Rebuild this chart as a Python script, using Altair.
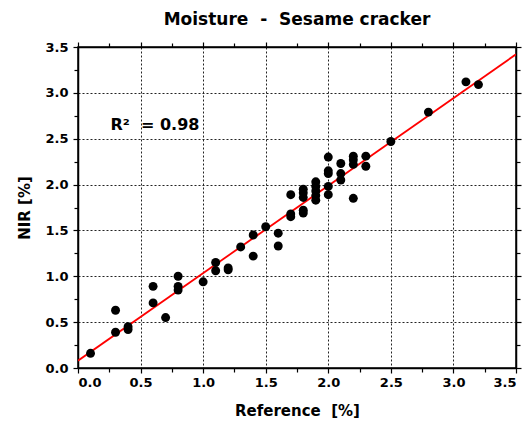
import altair as alt
import pandas as pd

# Data
ref = [0.1, 0.3, 0.3, 0.4, 0.4, 0.6, 0.6, 0.7, 0.8, 0.8, 0.8, 1.0, 1.1, 1.1, 1.2, 1.2,
       1.3, 1.4, 1.4, 1.5, 1.6, 1.6, 1.7, 1.7, 1.7,
       1.8, 1.8, 1.8, 1.8, 1.8,
       1.9, 1.9, 1.9, 1.9, 1.9,
       2.0, 2.0, 2.0, 2.0, 2.0,
       2.1, 2.1, 2.1,
       2.2, 2.2, 2.2, 2.2,
       2.3, 2.3, 2.5, 2.8, 3.1, 3.2]
nir = [0.16, 0.63, 0.39, 0.45, 0.42, 0.89, 0.71, 0.55, 1.00, 0.89, 0.85, 0.94, 1.15, 1.06, 1.09, 1.07,
       1.32, 1.45, 1.22, 1.54, 1.47, 1.33, 1.89, 1.68, 1.65,
       1.95, 1.91, 1.86, 1.72, 1.69,
       2.03, 1.98, 1.93, 1.88, 1.83,
       2.30, 2.15, 2.12, 1.98, 1.89,
       2.23, 2.12, 2.05,
       2.31, 2.27, 2.22, 1.85,
       2.31, 2.20, 2.47, 2.79, 3.12, 3.09]
fit_x = [0.0, 3.5]
fit_y = [0.08, 3.42]
ann_x = [0.26]
ann_y = [2.65]
ann_text = ["R\u00b2 \u00a0= 0.98"]

ticks = [i * 0.25 for i in range(15)]

pts = pd.DataFrame({"ref": ref, "nir": nir})
fit = pd.DataFrame({"ref": fit_x, "nir": fit_y})
ann = pd.DataFrame({"ref": ann_x, "nir": ann_y, "t": ann_text})

FONT = "DejaVu Sans"
major = "datum.value % 0.5 == 0"
grid_op = {"condition": {"test": major, "value": 1}, "value": 0}
tick_sz = {"condition": {"test": major, "value": 5}, "value": 4}
lab = "datum.value % 0.5 == 0 ? format(datum.value, '.1f') : ''"

common = dict(values=ticks, tickColor="black", tickWidth=1.2, domainColor="black",
              domainWidth=1.5, labelFont=FONT, labelFontSize=13, labelFontWeight="bold",
              labelColor="black", titleFont=FONT, titleFontSize=15, titleFontWeight="bold",
              titleColor="black", tickSize=tick_sz)

xscale = alt.Scale(domain=[0, 3.5], nice=False, zero=False)
yscale = alt.Scale(domain=[0, 3.5], nice=False, zero=False)

xaxis = alt.Axis(title="Reference \u00a0[%]", labelExpr=lab, grid=True, gridDash=[2, 2],
                 gridColor="#222222", gridWidth=1, gridOpacity=grid_op, labelPadding=3,
                 titlePadding=14, **common)
yaxis = alt.Axis(title="NIR [%]", labelExpr=lab, grid=True, gridDash=[2, 2],
                 gridColor="#222222", gridWidth=1, gridOpacity=grid_op, labelPadding=5,
                 titlePadding=12, **common)
xtop = alt.Axis(orient="top", labels=False, grid=False, title=None, **common)
yright = alt.Axis(orient="right", labels=False, grid=False, title=None, **common)

points = alt.Chart(pts).mark_circle(size=80, color="black", opacity=1).encode(
    x=alt.X("ref:Q", scale=xscale, axis=xaxis),
    y=alt.Y("nir:Q", scale=yscale, axis=yaxis),
)
line = alt.Chart(fit).mark_line(color="#ff0000", strokeWidth=1.8, clip=True).encode(
    x=alt.X("ref:Q", scale=xscale, axis=xtop),
    y=alt.Y("nir:Q", scale=yscale, axis=yright),
)
text = alt.Chart(ann).mark_text(align="left", baseline="middle", font=FONT, fontSize=16,
                                fontWeight="bold", color="black").encode(
    x=alt.X("ref:Q", scale=xscale, axis=None),
    y=alt.Y("nir:Q", scale=yscale, axis=None),
    text="t:N",
)

chart = alt.layer(line, points, text).resolve_axis(x="independent", y="independent").properties(
    width=438, height=321,
    title=alt.TitleParams("Moisture \u00a0-\u00a0 Sesame cracker", font=FONT, fontSize=17,
                          fontWeight="bold", color="black", anchor="middle", offset=12),
    autosize=alt.AutoSizeParams(type="none"),
    padding={"left": 70, "top": 39, "right": 6, "bottom": 55},
).configure_view(stroke="black", strokeWidth=1.5)

chart.save("out.html", embed_options={"renderer": "svg", "actions": False})
